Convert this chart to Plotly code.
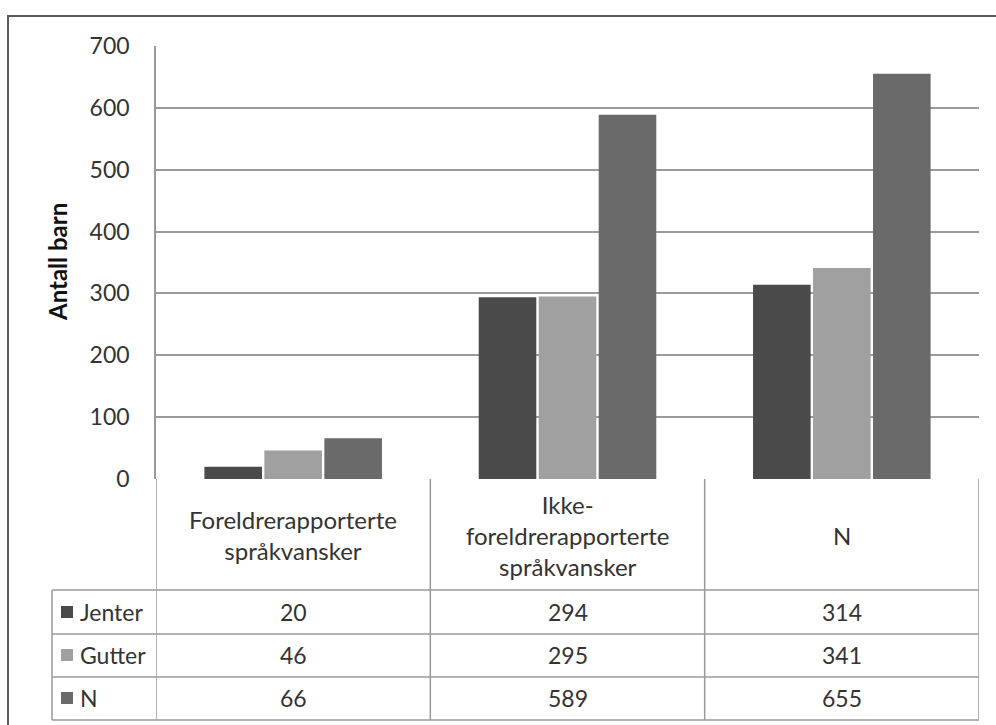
import plotly.graph_objects as go

# Data
categories = ["Foreldrerapporterte<br>språkvansker",
              "Ikke-<br>foreldrerapporterte<br>språkvansker",
              "N"]
series_names = ["Jenter", "Gutter", "N"]
jenter = [20, 294, 314]
gutter = [46, 295, 341]
totalt = [66, 589, 655]
series_values = [jenter, gutter, totalt]
y_ticks = [0, 100, 200, 300, 400, 500, 600, 700]

colors = ["#4a4a4a", "#a0a0a0", "#6a6a6a"]
FONT = "Lato, Open Sans, sans-serif"
TEXT = "#333333"
LINE = "#9a9a9a"
FS = 23

W, H = 996, 725
ML, MR, MT, MB = 156, 17, 46, 246
PW, PH = W - ML - MR, H - MT - MB


def py(px):
    """pixel row -> paper y"""
    return (H - MB - px) / PH


def pxx(px):
    """pixel column -> paper x"""
    return (px - ML) / PW


fig = go.Figure()
for name, vals, col in zip(series_names, series_values, colors):
    fig.add_trace(go.Bar(x=list(range(len(categories))), y=vals, name=name,
                         marker=dict(color=col, line=dict(width=0)),
                         showlegend=False))

shapes = []
annotations = []

# data table grid below the plot
row_lines = [590, 634, 677, 720]
for r in row_lines:
    shapes.append(dict(type="line", xref="paper", yref="paper",
                       x0=pxx(52), x1=1, y0=py(r), y1=py(r),
                       line=dict(color=LINE, width=1.5)))
for xb in [-0.5, 0.5, 1.5, 2.5]:
    shapes.append(dict(type="line", xref="x", yref="paper",
                       x0=xb, x1=xb, y0=py(720), y1=0,
                       line=dict(color=LINE, width=1.5)))
shapes.append(dict(type="line", xref="paper", yref="paper",
                   x0=pxx(52), x1=pxx(52), y0=py(720), y1=py(590),
                   line=dict(color=LINE, width=1.5)))

# outer chart frame
shapes.append(dict(type="rect", xref="paper", yref="paper",
                   x0=pxx(8), x1=pxx(1010), y0=py(16), y1=py(740),
                   line=dict(color="#5a5a5a", width=2), layer="below"))

# category headers
for i, c in enumerate(categories):
    annotations.append(dict(x=i, y=py(535), xref="x", yref="paper",
                            text=c, showarrow=False,
                            font=dict(family=FONT, size=24, color=TEXT),
                            align="center", xanchor="center", yanchor="middle"))

# table rows: legend key + values
row_centers = [612, 655, 698]
for name, vals, col, rc in zip(series_names, series_values, colors, row_centers):
    shapes.append(dict(type="rect", xref="paper", yref="paper",
                       x0=pxx(61), x1=pxx(73), y0=py(rc + 6), y1=py(rc - 6),
                       fillcolor=col, line=dict(width=0)))
    annotations.append(dict(x=pxx(78), y=py(rc), xref="paper", yref="paper",
                            text=name, showarrow=False,
                            font=dict(family=FONT, size=FS, color=TEXT),
                            xanchor="left", yanchor="middle"))
    for i, v in enumerate(vals):
        annotations.append(dict(x=i, y=py(rc), xref="x", yref="paper",
                                text=str(v), showarrow=False,
                                font=dict(family=FONT, size=FS, color=TEXT),
                                xanchor="center", yanchor="middle"))

# y-axis title
annotations.append(dict(x=pxx(57), y=py(262), xref="paper", yref="paper",
                        text="<b>Antall barn</b>", textangle=-90, showarrow=False,
                        font=dict(family=FONT, size=24, color="#111111"),
                        xanchor="center", yanchor="middle"))

fig.update_layout(
    width=W, height=H,
    margin=dict(l=ML, r=MR, t=MT, b=MB),
    paper_bgcolor="white", plot_bgcolor="white",
    barmode="group", bargap=0.344, bargroupgap=0.04,
    shapes=shapes, annotations=annotations,
    xaxis=dict(range=[-0.5, 2.5], showticklabels=False, showgrid=False,
               zeroline=False, showline=False, ticks=""),
    yaxis=dict(range=[0, 700], tickvals=y_ticks, showgrid=True,
               gridcolor=LINE, gridwidth=1.5, zeroline=False,
               showline=True, linecolor=LINE, linewidth=1.5,
               ticks="", ticklabelstandoff=20,
               tickfont=dict(family=FONT, size=FS, color=TEXT)),
    font=dict(family=FONT, color=TEXT),
)

fig.write_html("out.html")
